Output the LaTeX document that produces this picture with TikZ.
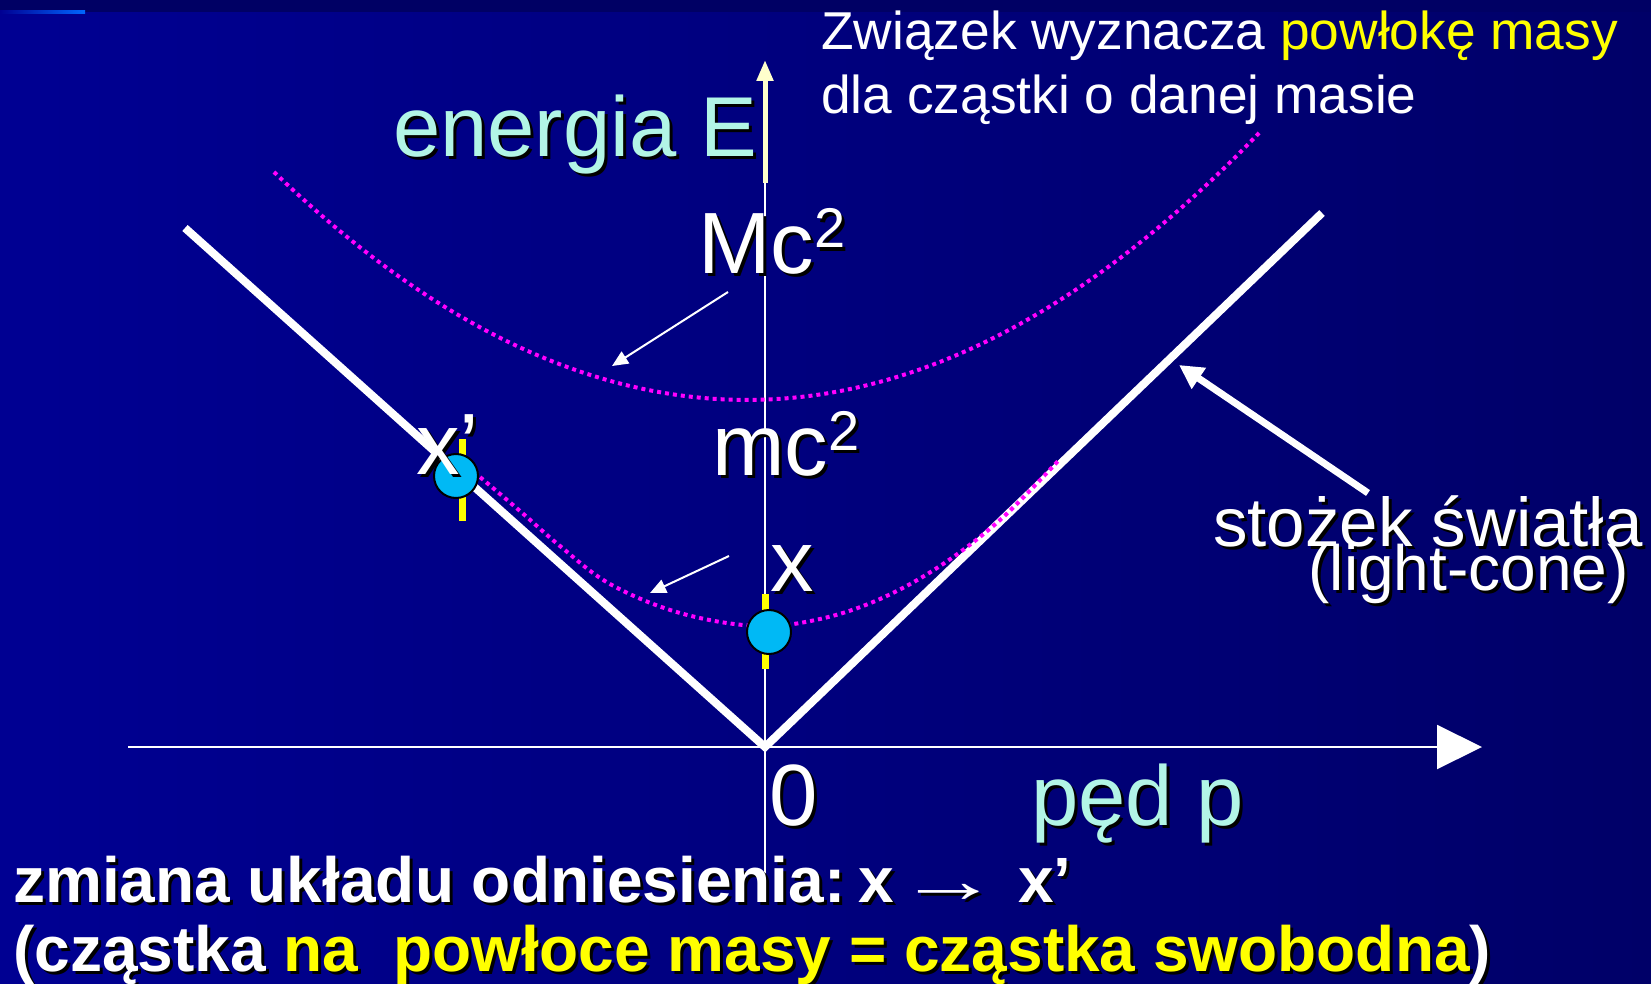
\documentclass[tikz,border=0pt]{standalone}
\usepackage{fontspec}
\setmainfont{Liberation Sans}
\usepackage{graphicx}
\usepackage{tikz}
\usetikzlibrary{positioning,arrows.meta,calc}
\definecolor{bgleft}{HTML}{000092}
\definecolor{bgright}{HTML}{000068}
\definecolor{topband}{HTML}{000064}
\definecolor{accentline}{HTML}{0066FF}
\definecolor{axiscream}{HTML}{FFFFCC}
\definecolor{shellpink}{HTML}{FF00FF}
\definecolor{hilite}{HTML}{FFFF00}
\definecolor{mint}{HTML}{B2F5E6}
\definecolor{dotblue}{HTML}{00B9F5}

\newif\ifshade
\newcommand{\hl}[1]{\ifshade#1\else\textcolor{hilite}{#1}\fi}
\newcommand{\shtext}[1]{\rlap{\shadetrue\color{black}\kern3pt\raisebox{-3pt}{#1}}#1}
\newcommand{\sqtwo}{\raisebox{25pt}{\fontsize{56}{56}\selectfont 2}}
\newcommand{\longto}{\scalebox{1.6}[1]{→}}

\begin{document}
\begin{tikzpicture}[x=1pt, y=-1pt,
    lbl/.style={inner sep=0pt, anchor=base west, text=white},
    big/.style={lbl, font=\fontsize{87}{87}\selectfont},
    axislbl/.style={lbl, text=mint, font=\fontsize{85}{85}\selectfont},
    note/.style={lbl, font=\fontsize{53.3}{64}\selectfont},
    cone/.style={draw=white, line width=8pt, line join=miter},
    shell/.style={draw=shellpink, line width=4pt, dash pattern=on 4pt off 4pt},
    thinarr/.style={-{Triangle[length=16pt,width=14pt]}, line width=2pt, draw=white},
    particle/.style={circle, draw=black, line width=2pt, fill=dotblue, minimum size=44pt, inner sep=0pt},
    bar/.style={draw=hilite, line width=7pt}
]
    % slide background
    \useasboundingbox (0,0) rectangle (1651,984);
    \shade[left color=bgleft, right color=bgright] (0,12) rectangle (1651,984);
    \fill[topband] (0,0) rectangle (1651,12);
    \shade[left color=bgleft, right color=accentline] (0,11) rectangle (85,14);

    \coordinate (O) at (765,747);
    \coordinate (pmin) at (128,747);
    \coordinate (pmax) at (1482,747);
    \coordinate (Ebot) at (765,884);
    \coordinate (Emid) at (765,183);
    \coordinate (Etop) at (765,60);
    \coordinate (coneL) at (185,228);
    \coordinate (coneR) at (1322,213);

    % axes
    \draw[white, line width=2pt, -{Triangle[length=45pt,width=44pt]}] (pmin) -- (pmax);
    \draw[white, line width=2pt] (Ebot) -- (Emid);
    \draw[axiscream, line width=5pt, -{Triangle[length=21pt,width=16pt]}] (Emid) -- (Etop);

    % light cone and mass shells
    \draw[cone] (coneL) -- (O) -- (coneR);
    \draw[shell] (274,172) .. controls (603,489) and (931,475) .. (1260,132);
    \draw[shell] plot[smooth, tension=0.6] coordinates {(474,472) (520,511) (560,546)
        (610,584) (680,613) (757,626) (820,619) (880,599) (940,566) (1000,520) (1058,461)};

    \coordinate (McTail) at (728,292);
    \coordinate (McTip) at (612,366);
    \coordinate (mcTail) at (729,556);
    \coordinate (mcTip) at (650,593);
    \coordinate (lcTail) at (1368,493);
    \coordinate (lcTip) at (1179,365);
    \draw[thinarr] (McTail) -- (McTip);
    \draw[thinarr] (mcTail) -- (mcTip);
    \draw[white, line width=7pt, -{Triangle[length=24pt,width=24pt]}] (lcTail) -- (lcTip);

    % particles
    \coordinate (xc) at (769,632);
    \coordinate (xpc) at (456,476);
    \draw[bar] ($(xc)+(-4,-38)$) -- ($(xc)+(-4,37)$);
    \draw[bar] ($(xpc)+(6,-37)$) -- ($(xpc)+(6,45)$);
    \node[particle] (px) at (xc) {};
    \node[particle] (pxp) at (xpc) {};

    % labels
    \node[note] (shell1) at (821,50) {Związek wyznacza \hl{powłokę masy}};
    \node[note] (shell2) at ($(shell1.base west)+(0,64)$) {dla cząstki o danej masie};
    \node[axislbl] (energy) at (393,157) {\shtext{energia E}};
    \node[big] (Mc) at (698,273) {\shtext{Mc\sqtwo}};
    \node[big] (mc) at (712,475) {\shtext{mc\sqtwo}};
    \node[big] (xlab) at (770,591) {\shtext{x}};
    \node[big] (xplab) at (416,474) {\shtext{x’}};
    \node[big] (zero) at (769,825) {\shtext{0}};
    \node[axislbl] (momentum) at (1031,825) {\shtext{pęd p}};
    \node[lbl, font=\fontsize{69}{69}\selectfont] (stozek) at (1213,546) {\shtext{stożek światła}};
    \node[lbl, anchor=base east, font=\fontsize{64}{64}\selectfont] (light) at ($(stozek.base east)+(-14,44)$) {\shtext{(light-cone)}};
    \node[lbl, font=\bfseries\fontsize{64}{64}\selectfont] (change) at (13,902) {\shtext{zmiana układu odniesienia:\kern13pt x\kern4pt\longto\kern18pt x’}};
    \node[lbl, font=\bfseries\fontsize{64}{64}\selectfont] (free) at (13,971) {\shtext{(cząstka \hl{na~ powłoce masy = cząstka swobodna})}};
\end{tikzpicture}
\end{document}
